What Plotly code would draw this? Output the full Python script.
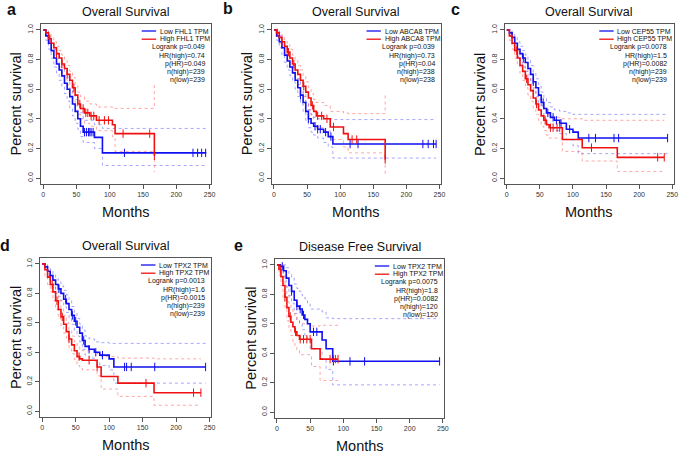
import plotly.graph_objects as go

W, H = 685, 455

MONTH_TICKS = [0, 50, 100, 150, 200, 250]
SURV_TICKS = [0.0, 0.2, 0.4, 0.6, 0.8, 1.0]
SURV_TICK_TEXT = ["0.0", "0.2", "0.4", "0.6", "0.8", "1.0"]

# ---------------------------------------------------------------------------
# Panel a: FHL1, overall survival
# ---------------------------------------------------------------------------
A_LOW_T = [0, 4, 8, 12, 16, 20, 24, 28, 32, 36, 40, 44, 48, 52, 56, 60, 77, 89, 245]
A_LOW_S = [1.0, 0.96, 0.91, 0.86, 0.81, 0.77, 0.73, 0.69, 0.64, 0.60, 0.55, 0.50, 0.45, 0.40, 0.35, 0.31, 0.275, 0.17, 0.17]
A_LOW_UP = [1.0, 0.99, 0.95, 0.91, 0.87, 0.83, 0.80, 0.76, 0.72, 0.68, 0.63, 0.58, 0.53, 0.48, 0.44, 0.39, 0.36, 0.335, 0.335]
A_LOW_LO = [1.0, 0.93, 0.87, 0.81, 0.75, 0.71, 0.66, 0.62, 0.57, 0.52, 0.47, 0.42, 0.37, 0.33, 0.28, 0.24, 0.20, 0.085, 0.085]
A_LOW_CENS = [62, 65, 68, 70, 72, 75, 122, 225, 232, 238, 244]
A_HIGH_T = [0, 4, 8, 12, 16, 20, 24, 28, 32, 36, 40, 44, 48, 52, 56, 62, 70, 80, 104, 108, 167]
A_HIGH_S = [1.0, 0.98, 0.94, 0.91, 0.88, 0.84, 0.81, 0.77, 0.74, 0.70, 0.66, 0.61, 0.56, 0.50, 0.47, 0.44, 0.42, 0.39, 0.36, 0.30, 0.15]
A_HIGH_UP = [1.0, 1.0, 0.97, 0.95, 0.92, 0.89, 0.86, 0.83, 0.80, 0.76, 0.72, 0.68, 0.63, 0.58, 0.55, 0.52, 0.50, 0.48, 0.47, 0.47, 0.64]
A_HIGH_LO = [1.0, 0.96, 0.91, 0.87, 0.83, 0.79, 0.75, 0.71, 0.67, 0.63, 0.59, 0.54, 0.49, 0.43, 0.40, 0.37, 0.35, 0.32, 0.28, 0.18, 0.04]
A_HIGH_CENS = [10, 20, 28, 36, 46, 55, 60, 64, 67, 72, 76, 84, 92, 98, 120, 160, 167]
A_STATS = ["Logrank p=0.049", "HR(high)=0.74", "p(HR)=0.049", "n(high)=239", "n(low)=239"]

# ---------------------------------------------------------------------------
# Panel b: ABCA8, overall survival
# ---------------------------------------------------------------------------
B_LOW_T = [0, 4, 8, 12, 16, 20, 24, 28, 32, 36, 40, 44, 48, 52, 56, 60, 66, 75, 82, 89, 245]
B_LOW_S = [1.0, 0.96, 0.92, 0.88, 0.83, 0.79, 0.75, 0.71, 0.66, 0.61, 0.56, 0.51, 0.45, 0.40, 0.37, 0.35, 0.33, 0.31, 0.28, 0.23, 0.23]
B_LOW_UP = [1.0, 0.99, 0.96, 0.92, 0.88, 0.84, 0.80, 0.76, 0.71, 0.67, 0.62, 0.57, 0.51, 0.46, 0.43, 0.41, 0.40, 0.40, 0.40, 0.395, 0.395]
B_LOW_LO = [1.0, 0.93, 0.88, 0.83, 0.78, 0.73, 0.69, 0.65, 0.60, 0.55, 0.50, 0.45, 0.39, 0.34, 0.31, 0.29, 0.27, 0.24, 0.21, 0.135, 0.135]
B_LOW_CENS = [40, 52, 62, 66, 70, 78, 86, 115, 127, 225, 233, 241, 245]
B_HIGH_T = [0, 4, 8, 12, 16, 20, 24, 28, 32, 36, 40, 44, 48, 52, 56, 60, 64, 75, 85, 105, 112, 168]
B_HIGH_S = [1.0, 0.98, 0.95, 0.92, 0.89, 0.85, 0.81, 0.77, 0.73, 0.70, 0.66, 0.62, 0.58, 0.54, 0.49, 0.45, 0.42, 0.40, 0.345, 0.30, 0.26, 0.125]
B_HIGH_UP = [1.0, 1.0, 0.98, 0.96, 0.93, 0.90, 0.87, 0.83, 0.80, 0.76, 0.73, 0.69, 0.65, 0.61, 0.57, 0.53, 0.51, 0.49, 0.45, 0.44, 0.435, 0.56]
B_HIGH_LO = [1.0, 0.95, 0.91, 0.87, 0.84, 0.80, 0.75, 0.71, 0.67, 0.63, 0.59, 0.55, 0.51, 0.46, 0.41, 0.37, 0.34, 0.32, 0.26, 0.21, 0.17, 0.02]
B_HIGH_CENS = [5, 12, 22, 30, 45, 58, 66, 72, 80, 90, 118, 125, 168]
B_STATS = ["Logrank p=0.039", "HR(high)=0.73", "p(HR)=0.04", "n(high)=238", "n(low)=238"]

# ---------------------------------------------------------------------------
# Panel c: CEP55, overall survival
# ---------------------------------------------------------------------------
C_LOW_T = [0, 4, 8, 12, 16, 20, 24, 28, 32, 36, 40, 44, 48, 52, 56, 60, 66, 72, 80, 90, 100, 108, 243]
C_LOW_S = [1.0, 0.98, 0.95, 0.91, 0.87, 0.84, 0.81, 0.78, 0.74, 0.70, 0.65, 0.61, 0.56, 0.51, 0.47, 0.44, 0.41, 0.39, 0.37, 0.33, 0.31, 0.27, 0.27]
C_LOW_UP = [1.0, 1.0, 0.98, 0.95, 0.92, 0.89, 0.86, 0.83, 0.80, 0.76, 0.71, 0.67, 0.62, 0.58, 0.54, 0.51, 0.48, 0.46, 0.45, 0.44, 0.43, 0.43, 0.43]
C_LOW_LO = [1.0, 0.95, 0.91, 0.87, 0.82, 0.79, 0.75, 0.72, 0.68, 0.64, 0.59, 0.55, 0.50, 0.45, 0.40, 0.37, 0.34, 0.32, 0.30, 0.26, 0.22, 0.165, 0.165]
C_LOW_CENS = [25, 40, 55, 62, 70, 75, 82, 95, 124, 134, 162, 169, 243]
C_HIGH_T = [0, 4, 8, 12, 16, 20, 24, 28, 32, 36, 40, 44, 48, 52, 56, 60, 64, 84, 114, 167, 238]
C_HIGH_S = [1.0, 0.96, 0.91, 0.86, 0.81, 0.76, 0.72, 0.67, 0.63, 0.59, 0.54, 0.50, 0.46, 0.42, 0.39, 0.36, 0.34, 0.26, 0.205, 0.14, 0.14]
C_HIGH_UP = [1.0, 0.99, 0.95, 0.91, 0.86, 0.82, 0.78, 0.74, 0.70, 0.66, 0.61, 0.57, 0.53, 0.49, 0.46, 0.43, 0.41, 0.40, 0.39, 0.39, 0.39]
C_HIGH_LO = [1.0, 0.93, 0.87, 0.81, 0.76, 0.70, 0.66, 0.61, 0.56, 0.52, 0.47, 0.43, 0.39, 0.35, 0.32, 0.29, 0.27, 0.18, 0.115, 0.045, 0.045]
C_HIGH_CENS = [15, 30, 45, 58, 66, 70, 76, 80, 128, 228, 238]
C_STATS = ["Logrank p=0.0078", "HR(high)=1.5", "p(HR)=0.0082", "n(high)=239", "n(low)=239"]

# ---------------------------------------------------------------------------
# Panel d: TPX2, overall survival
# ---------------------------------------------------------------------------
D_LOW_T = [0, 4, 8, 12, 16, 20, 24, 28, 32, 36, 40, 44, 48, 52, 56, 60, 64, 70, 78, 86, 100, 107, 244]
D_LOW_S = [1.0, 0.98, 0.95, 0.92, 0.89, 0.86, 0.83, 0.80, 0.76, 0.73, 0.69, 0.65, 0.61, 0.57, 0.53, 0.48, 0.44, 0.42, 0.40, 0.38, 0.355, 0.30, 0.30]
D_LOW_UP = [1.0, 1.0, 0.98, 0.96, 0.93, 0.90, 0.88, 0.85, 0.82, 0.79, 0.75, 0.71, 0.67, 0.63, 0.59, 0.55, 0.51, 0.49, 0.47, 0.465, 0.46, 0.46, 0.46]
D_LOW_LO = [1.0, 0.95, 0.92, 0.88, 0.85, 0.82, 0.78, 0.75, 0.71, 0.67, 0.63, 0.59, 0.55, 0.51, 0.47, 0.42, 0.38, 0.36, 0.34, 0.31, 0.28, 0.19, 0.19]
D_LOW_CENS = [12, 25, 35, 45, 50, 62, 70, 80, 90, 123, 126, 133, 168, 244]
D_HIGH_T = [0, 4, 8, 12, 16, 20, 24, 28, 32, 36, 40, 44, 48, 52, 56, 60, 82, 88, 113, 167, 237]
D_HIGH_S = [1.0, 0.96, 0.91, 0.86, 0.81, 0.75, 0.69, 0.64, 0.59, 0.54, 0.49, 0.45, 0.41, 0.37, 0.355, 0.345, 0.30, 0.235, 0.19, 0.125, 0.125]
D_HIGH_UP = [1.0, 1.0, 0.95, 0.91, 0.86, 0.80, 0.75, 0.70, 0.65, 0.60, 0.55, 0.51, 0.47, 0.44, 0.42, 0.41, 0.39, 0.37, 0.36, 0.355, 0.355]
D_HIGH_LO = [1.0, 0.92, 0.86, 0.81, 0.75, 0.69, 0.63, 0.58, 0.53, 0.48, 0.43, 0.39, 0.35, 0.31, 0.29, 0.28, 0.24, 0.15, 0.10, 0.04, 0.04]
D_HIGH_CENS = [15, 22, 30, 40, 55, 70, 82, 155, 226, 237]
D_STATS = ["Logrank p=0.0013", "HR(high)=1.6", "p(HR)=0.0015", "n(high)=239", "n(low)=239"]

# ---------------------------------------------------------------------------
# Panel e: TPX2, disease free survival
# ---------------------------------------------------------------------------
E_LOW_T = [0, 5, 10, 14, 18, 22, 26, 30, 34, 38, 42, 46, 50, 68, 74, 84, 245]
E_LOW_S = [1.0, 0.99, 0.96, 0.91, 0.86, 0.82, 0.76, 0.72, 0.70, 0.66, 0.63, 0.60, 0.545, 0.49, 0.43, 0.345, 0.345]
E_LOW_UP = [1.0, 1.0, 1.0, 0.98, 0.94, 0.91, 0.87, 0.84, 0.82, 0.79, 0.77, 0.74, 0.70, 0.68, 0.64, 0.635, 0.635]
E_LOW_LO = [1.0, 0.97, 0.92, 0.85, 0.79, 0.74, 0.67, 0.62, 0.60, 0.56, 0.52, 0.49, 0.43, 0.36, 0.29, 0.185, 0.185]
E_LOW_CENS = [8, 22, 30, 35, 40, 55, 60, 85, 110, 132, 245]
E_HIGH_T = [0, 3, 6, 9, 12, 15, 18, 21, 24, 27, 30, 34, 52, 65, 92]
E_HIGH_S = [1.0, 0.97, 0.92, 0.86, 0.78, 0.71, 0.65, 0.61, 0.58, 0.545, 0.52, 0.495, 0.43, 0.36, 0.36]
E_HIGH_UP = [1.0, 1.0, 0.98, 0.93, 0.86, 0.80, 0.74, 0.70, 0.68, 0.65, 0.62, 0.60, 0.585, 0.59, 0.59]
E_HIGH_LO = [1.0, 0.93, 0.86, 0.78, 0.70, 0.62, 0.56, 0.52, 0.48, 0.45, 0.42, 0.39, 0.31, 0.215, 0.215]
E_HIGH_CENS = [5, 12, 20, 28, 35, 40, 45, 50, 80, 85, 88, 92]
E_STATS = ["Logrank p=0.0075", "HR(high)=1.8", "p(HR)=0.0082", "n(high)=120", "n(low)=120"]

LETTERS = ["a", "b", "c", "d", "e"]
GENES = ["FHL1", "ABCA8", "CEP55", "TPX2", "TPX2"]
TITLES = ["Overall Survival", "Overall Survival", "Overall Survival",
          "Overall Survival", "Disease Free Survival"]

# ---------------------------------------------------------------------------
# Layout (pixels): plot frame left, right, top, bottom; letter position
# ---------------------------------------------------------------------------
FRAMES = [
    (41.5, 212.5, 24, 184),
    (274, 444, 24, 184),
    (508.5, 678.5, 24, 184),
    (40.5, 212.5, 258, 417),
    (277, 447.5, 259, 418),
]
LETTER_POS = [(12, 9), (230, 8), (459, 9), (5, 245), (240, 246)]
LEGEND_X0 = [0.592, 0.56, 0.56, 0.59, 0.59]

BLUE = "#1010F0"
RED = "#F01010"
BLUE_CI = "rgba(60,60,255,0.45)"
RED_CI = "rgba(255,60,60,0.45)"
FONT = "Liberation Sans, Arial, sans-serif"


def px(x):
    return x / W


def py(y):
    return 1 - y / H


def surv_at(times, surv, t):
    val = surv[0]
    for ti, si in zip(times, surv):
        if ti <= t:
            val = si
    return val


def label(x, y, text, size, **kw):
    d = dict(x=x, y=y, text=text, showarrow=False, xref="paper", yref="paper",
             xanchor="center", yanchor="middle", font=dict(size=size, color="#111"))
    d.update(kw)
    return d


PANELS = [
    (A_LOW_T, A_LOW_S, A_LOW_UP, A_LOW_LO, A_LOW_CENS,
     A_HIGH_T, A_HIGH_S, A_HIGH_UP, A_HIGH_LO, A_HIGH_CENS, A_STATS),
    (B_LOW_T, B_LOW_S, B_LOW_UP, B_LOW_LO, B_LOW_CENS,
     B_HIGH_T, B_HIGH_S, B_HIGH_UP, B_HIGH_LO, B_HIGH_CENS, B_STATS),
    (C_LOW_T, C_LOW_S, C_LOW_UP, C_LOW_LO, C_LOW_CENS,
     C_HIGH_T, C_HIGH_S, C_HIGH_UP, C_HIGH_LO, C_HIGH_CENS, C_STATS),
    (D_LOW_T, D_LOW_S, D_LOW_UP, D_LOW_LO, D_LOW_CENS,
     D_HIGH_T, D_HIGH_S, D_HIGH_UP, D_HIGH_LO, D_HIGH_CENS, D_STATS),
    (E_LOW_T, E_LOW_S, E_LOW_UP, E_LOW_LO, E_LOW_CENS,
     E_HIGH_T, E_HIGH_S, E_HIGH_UP, E_HIGH_LO, E_HIGH_CENS, E_STATS),
]

fig = go.Figure()
annotations = []
shapes = []
layout_axes = {}

for i, panel in enumerate(PANELS):
    (lt, ls, lup, llo, lc, ht, hs, hup, hlo, hc, stats) = panel
    n = "" if i == 0 else str(i + 1)
    xa, ya = "x" + n, "y" + n
    left, right, top, bottom = FRAMES[i]

    # confidence bands first (dotted), then curves, then censor marks
    for t, band, col in [(lt, lup, BLUE_CI), (lt, llo, BLUE_CI),
                         (ht, hup, RED_CI), (ht, hlo, RED_CI)]:
        fig.add_trace(go.Scatter(
            x=t, y=band, mode="lines", line=dict(color=col, width=1, dash="dot", shape="hv"),
            xaxis=xa, yaxis=ya, showlegend=False, hoverinfo="skip",
        ))
    for t, s, cens, col in [(lt, ls, lc, BLUE), (ht, hs, hc, RED)]:
        fig.add_trace(go.Scatter(
            x=t, y=s, mode="lines", line=dict(color=col, width=1.6, shape="hv"),
            xaxis=xa, yaxis=ya, showlegend=False,
        ))
        fig.add_trace(go.Scatter(
            x=cens, y=[surv_at(t, s, c) for c in cens], mode="markers",
            marker=dict(symbol="line-ns-open", size=6, color=col, line=dict(color=col, width=1)),
            xaxis=xa, yaxis=ya, showlegend=False,
        ))

    axis_style = dict(
        showline=True, mirror=True, linecolor="#555", linewidth=1,
        ticks="outside", ticklen=4, tickcolor="#555", tickwidth=1,
        tickfont=dict(size=7, color="#333"), showgrid=False, zeroline=False,
    )
    layout_axes["xaxis" + n] = dict(
        domain=[px(left), px(right)], range=[-3, 252], tickvals=MONTH_TICKS,
        anchor=ya, **axis_style,
    )
    layout_axes["yaxis" + n] = dict(
        domain=[py(bottom), py(top)], range=[-0.04, 1.04], tickvals=SURV_TICKS,
        ticktext=SURV_TICK_TEXT, tickangle=-90, anchor=xa, **axis_style,
    )

    cx = (left + right) / 2
    cy = (top + bottom) / 2
    annotations.append(label(px(cx), py(top - 12), TITLES[i], 12.5))
    annotations.append(label(px(LETTER_POS[i][0]), py(LETTER_POS[i][1]),
                             "<b>%s</b>" % LETTERS[i], 16))
    annotations.append(label(px(left - 25), py(cy), "Percent survival", 14.5, textangle=-90))
    annotations.append(label(px(cx), py(bottom + 28), "Months", 14.5))

    # legend inside the frame, top right
    x0 = LEGEND_X0[i]
    fh = bottom - top
    for k, (name, col) in enumerate([("Low %s TPM" % GENES[i], BLUE),
                                     ("High %s TPM" % GENES[i], RED)]):
        yy = 1 - (7 + 8.2 * k) / fh
        shapes.append(dict(type="line", xref=xa + " domain", yref=ya + " domain",
                           x0=x0, x1=x0 + 0.085, y0=yy, y1=yy, line=dict(color=col, width=1.3)))
        annotations.append(dict(x=x0 + 0.095, y=yy, xref=xa + " domain", yref=ya + " domain",
                                text=name, showarrow=False, xanchor="left", yanchor="middle",
                                font=dict(size=7, color="#111")))
    for k, line in enumerate(stats):
        yy = 1 - (7 + 8.2 * (k + 2)) / fh
        annotations.append(dict(x=0.975, y=yy, xref=xa + " domain", yref=ya + " domain",
                                text=line, showarrow=False, xanchor="right", yanchor="middle",
                                font=dict(size=7, color="#111")))

fig.update_layout(
    width=W, height=H,
    margin=dict(l=0, r=0, t=0, b=0),
    paper_bgcolor="white", plot_bgcolor="white",
    font=dict(family=FONT, color="#111"),
    annotations=annotations, shapes=shapes,
    **layout_axes,
)

fig.write_html("out.html", config={"displayModeBar": False},
               post_script="document.body.style.margin='0';")
